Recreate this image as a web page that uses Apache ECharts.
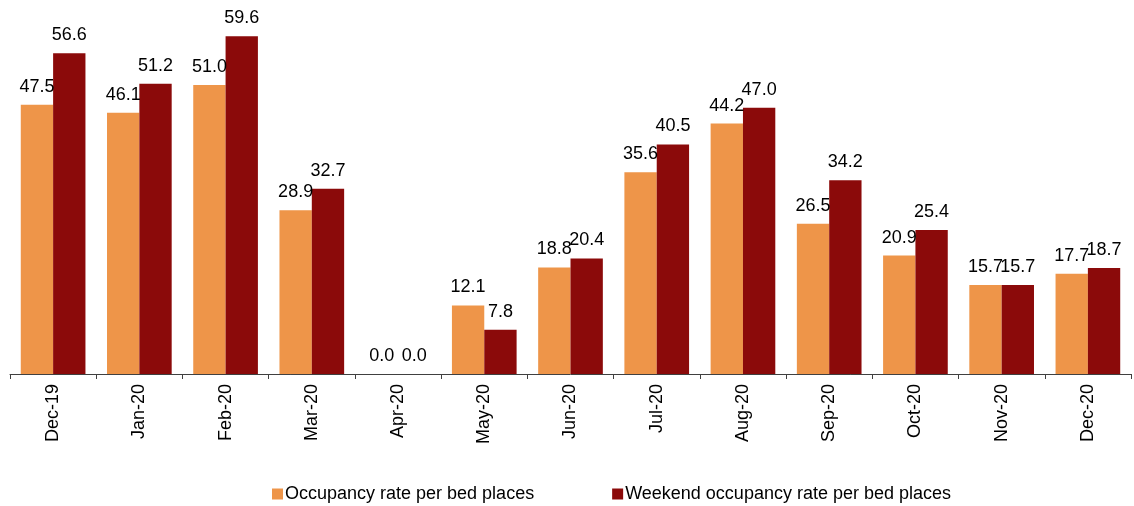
<!DOCTYPE html>
<html>
<head>
<meta charset="utf-8">
<script src="https://cdn.jsdelivr.net/npm/echarts@6/dist/echarts.min.js"></script>
<style>html,body{margin:0;padding:0;background:#fff}#c{width:1134px;height:506px}</style>
</head>
<body>
<div id="c"></div>
<script>
const categories = ['Dec-19','Jan-20','Feb-20','Mar-20','Apr-20','May-20','Jun-20','Jul-20','Aug-20','Sep-20','Oct-20','Nov-20','Dec-20'];
const occupancy = [47.5,46.1,51.0,28.9,0.0,12.1,18.8,35.6,44.2,26.5,20.9,15.7,17.7];
const weekend = [56.6,51.2,59.6,32.7,0.0,7.8,20.4,40.5,47.0,34.2,25.4,15.7,18.7];
const seriesNames = ['Occupancy rate per bed places','Weekend occupancy rate per bed places'];

const chart = echarts.init(document.getElementById('c'), null, {renderer:'canvas'});
const font = 'Liberation Sans, Arial, sans-serif';
const label = {show:true, position:'top', distance:9, color:'#000', fontSize:18, fontFamily:font, formatter:p=>p.value.toFixed(1)};
chart.setOption({
  animation:false,
  grid:{left:10, right:3, top:34, bottom:132, containLabel:false},
  legend:{
    data:seriesNames, left:267, top:480, itemWidth:11, itemHeight:11, itemGap:78,
    icon:'rect', textStyle:{fontSize:18, fontFamily:font, color:'#000', padding:[0,0,0,-3]}
  },
  xAxis:{
    type:'category', data:categories, boundaryGap:true,
    axisLine:{lineStyle:{color:'#404040', width:1}},
    axisTick:{show:true, length:5, inside:false, lineStyle:{color:'#404040'}},
    axisLabel:{rotate:90, margin:10, fontSize:18, fontFamily:font, color:'#000', interval:0}
  },
  yAxis:{type:'value', min:0, max:60, show:false, splitLine:{show:false}},
  series:[
    {name:seriesNames[0], type:'bar', data:occupancy, itemStyle:{color:'#EE9549'}, barGap:'0%', barCategoryGap:'25%', label:label},
    {name:seriesNames[1], type:'bar', data:weekend, itemStyle:{color:'#8B0A0A'}, barGap:'0%', barCategoryGap:'25%', label:label}
  ]
});
</script>
</body>
</html>
